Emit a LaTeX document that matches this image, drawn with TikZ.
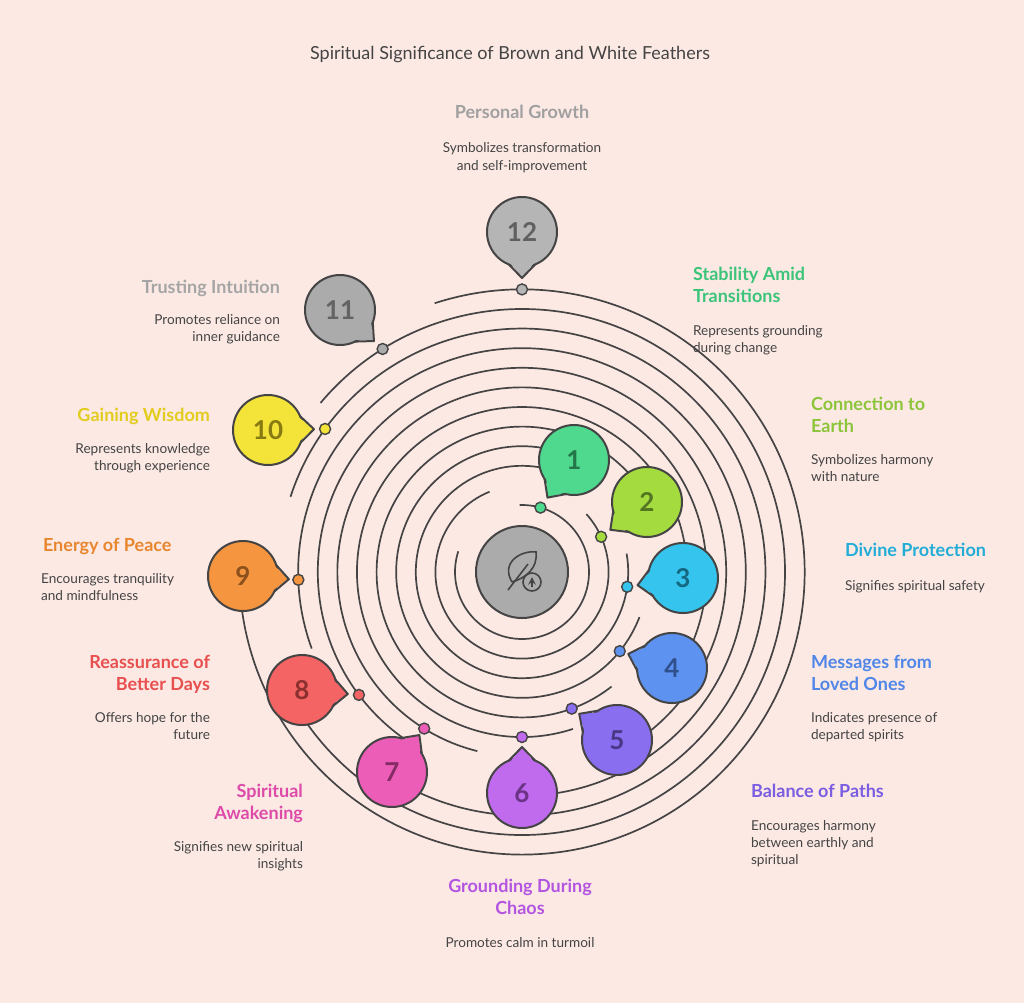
\documentclass[tikz,border=0pt]{standalone}
\usepackage{fontspec}
\setmainfont{Lato}
\usetikzlibrary{calc,positioning}
\definecolor{bg}{HTML}{FCE9E4}
\definecolor{ink}{HTML}{444444}
\definecolor{c1}{HTML}{4FD98F}
\definecolor{c2}{HTML}{A4DB3E}
\definecolor{c3}{HTML}{35C4EE}
\definecolor{c4}{HTML}{5E92F0}
\definecolor{c5}{HTML}{8A6EF0}
\definecolor{c6}{HTML}{C06BEE}
\definecolor{c7}{HTML}{EC5DB8}
\definecolor{c8}{HTML}{F46464}
\definecolor{c9}{HTML}{F5953F}
\definecolor{c10}{HTML}{F4E43A}
\definecolor{c11}{HTML}{ABABAB}
\definecolor{c12}{HTML}{B5B5B5}
\definecolor{t1}{HTML}{3CC47A}
\definecolor{t2}{HTML}{8CC43A}
\definecolor{t3}{HTML}{22ADD6}
\definecolor{t4}{HTML}{4F86E8}
\definecolor{t5}{HTML}{7A5DE0}
\definecolor{t6}{HTML}{B355E0}
\definecolor{t7}{HTML}{DD4AA8}
\definecolor{t8}{HTML}{E84F4F}
\definecolor{t9}{HTML}{E8862E}
\definecolor{t10}{HTML}{E2CC1E}
\definecolor{t11}{HTML}{A5A5A5}
\definecolor{t12}{HTML}{A0A0A0}
\tikzset{
  ring/.style={draw=ink,line width=0.85pt},
  dot/.style={circle,draw=ink,line width=0.7pt,inner sep=0pt,minimum size=5.5pt},
  bub/.style={circle,draw=ink,line width=1pt,inner sep=0pt,minimum size=35pt,
              font=\bfseries\fontsize{13}{13}\selectfont},
  head/.style={font=\bfseries\fontsize{9}{11}\selectfont,align=left},
  desc/.style={text=ink,font=\fontsize{6.8}{8.7}\selectfont,align=left},
}
\begin{document}
\begin{tikzpicture}[x=0.5pt,y=-0.5pt]
  \fill[bg] (0,0) rectangle (1024,1003);
  \useasboundingbox (0,0) rectangle (1024,1003);
  \coordinate (O) at (522,572);

  \node[text=ink,font=\fontsize{9}{10}\selectfont] (title) at (510,55) {Spiritual Significance of Brown and White Feathers};

  % rings and dots
  \foreach \i/\a in {1/74,2/24,3/-8,4/-39,5/-70,6/-90,7/-122,8/-143,9/-178,10/144,11/122,12/90}{
    \pgfmathsetmacro\r{(67+19.6*(\i-1))*0.5}
    \draw[ring] ($(O)+(\a+18:\r pt)$) arc[start angle=\a+18, end angle=\a-272, radius=\r pt];
  }
  \foreach \i/\a in {1/74,2/24,3/-8,4/-39,5/-70,6/-90,7/-122,8/-143,9/-178,10/144,11/122,12/90}{
    \pgfmathsetmacro\r{(67+19.6*(\i-1))*0.5}
    \node[dot,fill=c\i] (d\i) at ($(O)+(\a:\r pt)$) {};
  }

  % centre
  \node[circle,draw=ink,line width=1pt,fill=c11,minimum size=46pt] (hub) at (O) {};
  \draw[ink,line width=0.8pt] ($(O)+(-14,18)$) -- ($(O)+(6,-8)$);
  \draw[ink,line width=0.8pt] ($(O)+(-10,10)$) .. controls ($(O)+(-22,-10)$) and ($(O)+(0,-22)$) .. ($(O)+(14,-20)$)
        .. controls ($(O)+(16,-4)$) and ($(O)+(4,6)$) .. ($(O)+(-10,10)$);
  \node[circle,draw=ink,line width=0.8pt,minimum size=9pt,inner sep=0pt] (up) at ($(O)+(10,10)$) {};
  \draw[ink,line width=0.7pt,->,>=stealth] ($(up.center)+(0,5)$) -- ($(up.center)+(0,-5)$);

  % balloons
  \foreach \i/\x/\y in {1/574/460,2/647/502,3/683/578,4/672/668,5/617/740,6/522/793,
                        7/392/772,8/302/690,9/243/576,10/268/430,11/340/310,12/522/232}{
    \node[bub,fill=c\i,text=t\i!60!black] (b\i) at (\x,\y) {\i};
    \fill[c\i] ($(b\i.center)!16.5pt!22:(d\i)$) -- ($(b\i.center)!23pt!(d\i)$) -- ($(b\i.center)!16.5pt!-22:(d\i)$) -- cycle;
    \draw[ink,line width=1pt,line join=round] ($(b\i.center)!17.5pt!22:(d\i)$) -- ($(b\i.center)!23pt!(d\i)$) -- ($(b\i.center)!17.5pt!-22:(d\i)$);
  }

  % labels
  \node[head,text=t12,align=center] (h12) at (522,112) {Personal Growth};
  \node[desc,align=center,below=5pt of h12] {Symbolizes transformation\\and self-improvement};
  \node[head,text=t1,anchor=north west] (h1) at (686,260) {Stability Amid\\Transitions};
  \node[desc,anchor=north west] at (686,318) {Represents grounding\\during change};
  \node[head,text=t2,anchor=north west] (h2) at (804,390) {Connection to\\Earth};
  \node[desc,anchor=north west] at (804,447) {Symbolizes harmony\\with nature};
  \node[head,text=t3,anchor=north west] (h3) at (838,536) {Divine Protection};
  \node[desc,anchor=north west] at (838,573) {Signifies spiritual safety};
  \node[head,text=t4,anchor=north west] (h4) at (804,648) {Messages from\\Loved Ones};
  \node[desc,anchor=north west] at (804,705) {Indicates presence of\\departed spirits};
  \node[head,text=t5,anchor=north west] (h5) at (744,777) {Balance of Paths};
  \node[desc,anchor=north west] at (744,813) {Encourages harmony\\between earthly and\\spiritual};
  \node[head,text=t6,align=center] (h6) at (520,897) {Grounding During\\Chaos};
  \node[desc,align=center] at (520,943) {Promotes calm in turmoil};
  \node[head,text=t7,anchor=north east,align=right] (h7) at (310,777) {Spiritual\\Awakening};
  \node[desc,anchor=north east,align=right] at (310,834) {Signifies new spiritual\\insights};
  \node[head,text=t8,anchor=north east,align=right] (h8) at (217,648) {Reassurance of\\Better Days};
  \node[desc,anchor=north east,align=right] at (217,705) {Offers hope for the\\future};
  \node[head,text=t9,anchor=north west] (h9) at (36,531) {Energy of Peace};
  \node[desc,anchor=north west] at (34,566) {Encourages tranquility\\and mindfulness};
  \node[head,text=t10,anchor=north east,align=right] (h10) at (217,401) {Gaining Wisdom};
  \node[desc,anchor=north east,align=right] at (217,436) {Represents knowledge\\through experience};
  \node[head,text=t11,anchor=north east,align=right] (h11) at (287,273) {Trusting Intuition};
  \node[desc,anchor=north east,align=right] at (287,307) {Promotes reliance on\\inner guidance};
\end{tikzpicture}
\end{document}
